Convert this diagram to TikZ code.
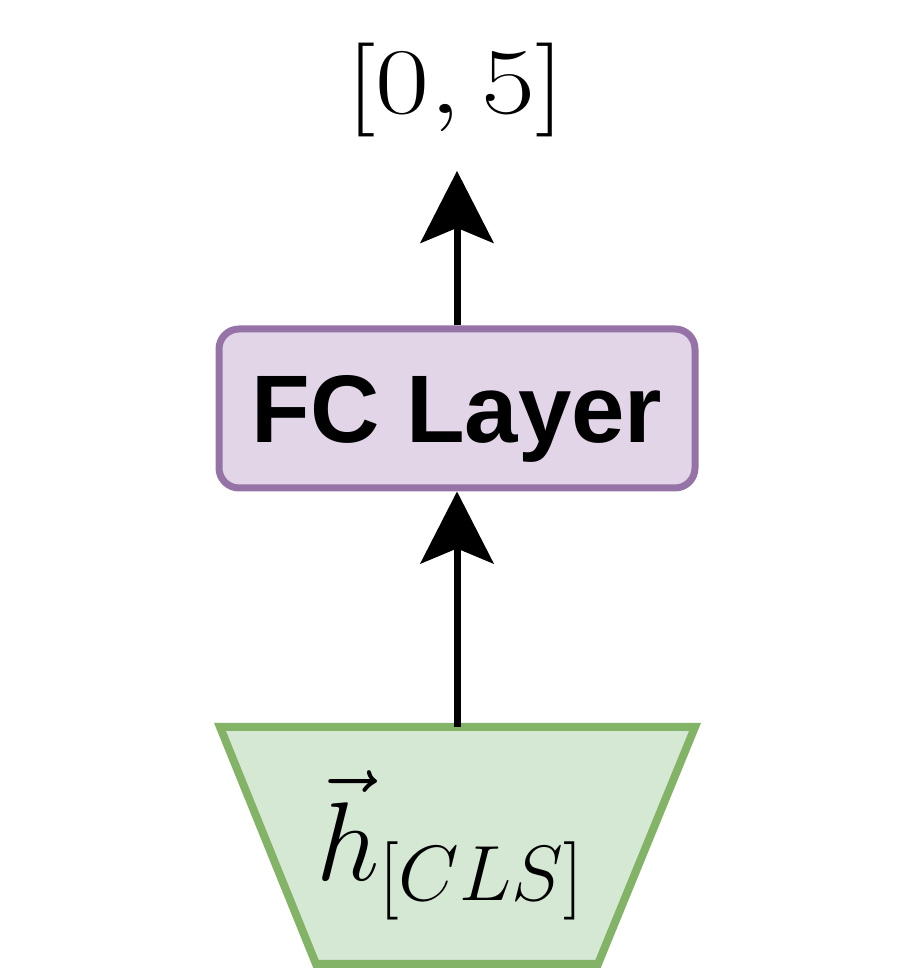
\RequirePackage{fix-cm}
\documentclass[tikz,border=0pt]{standalone}
\usepackage{fontspec}
\usepackage{amsmath}
\usetikzlibrary{arrows.meta,positioning,shapes.geometric}
\newfontfamily\labelfont{Liberation Sans}
\definecolor{fcfill}{HTML}{E1D5E7}
\definecolor{fcline}{HTML}{9673A6}
\definecolor{clsfill}{HTML}{D5E8D4}
\definecolor{clsline}{HTML}{82B366}

\begin{document}
\begin{tikzpicture}[x=0.5pt,y=0.5pt,
  layer/.style={draw=fcline,fill=fcfill,line width=3.5pt,rounded corners=10pt,
    minimum width=238pt,minimum height=79.5pt,inner sep=0pt,
    font=\labelfont\bfseries\fontsize{48}{52}\selectfont,text depth=0pt},
  feat/.style={draw=clsline,fill=clsfill,line width=4pt,line join=miter},
  flow/.style={line width=3.5pt,-{Stealth[length=36pt,width=36.5pt,inset=7.5pt]}}]
\path[use as bounding box] (0,0) rectangle (914,980);
% input embedding and classifier head
\draw[feat] (220,253) -- (695,253) -- (598,16) -- (316,16) -- cycle;
\coordinate (clstop) at (457,253);
\node[font=\fontsize{56}{60}\selectfont,inner sep=0pt] (cls) at (450,134.5) {$\vec{h}_{[CLS]}$};
\node[layer] (fc) at (457,571.5) {FC Layer};
\node[font=\fontsize{47}{50}\selectfont,inner sep=0pt,outer sep=17pt] (out) at (455.5,890)
  {\scalebox{1.25}[1]{$[0,5]$}};
\draw[flow] (clstop) -- (fc.south);
\draw[flow] (fc.north) -- (fc.north |- out.south);
\end{tikzpicture}
\end{document}
